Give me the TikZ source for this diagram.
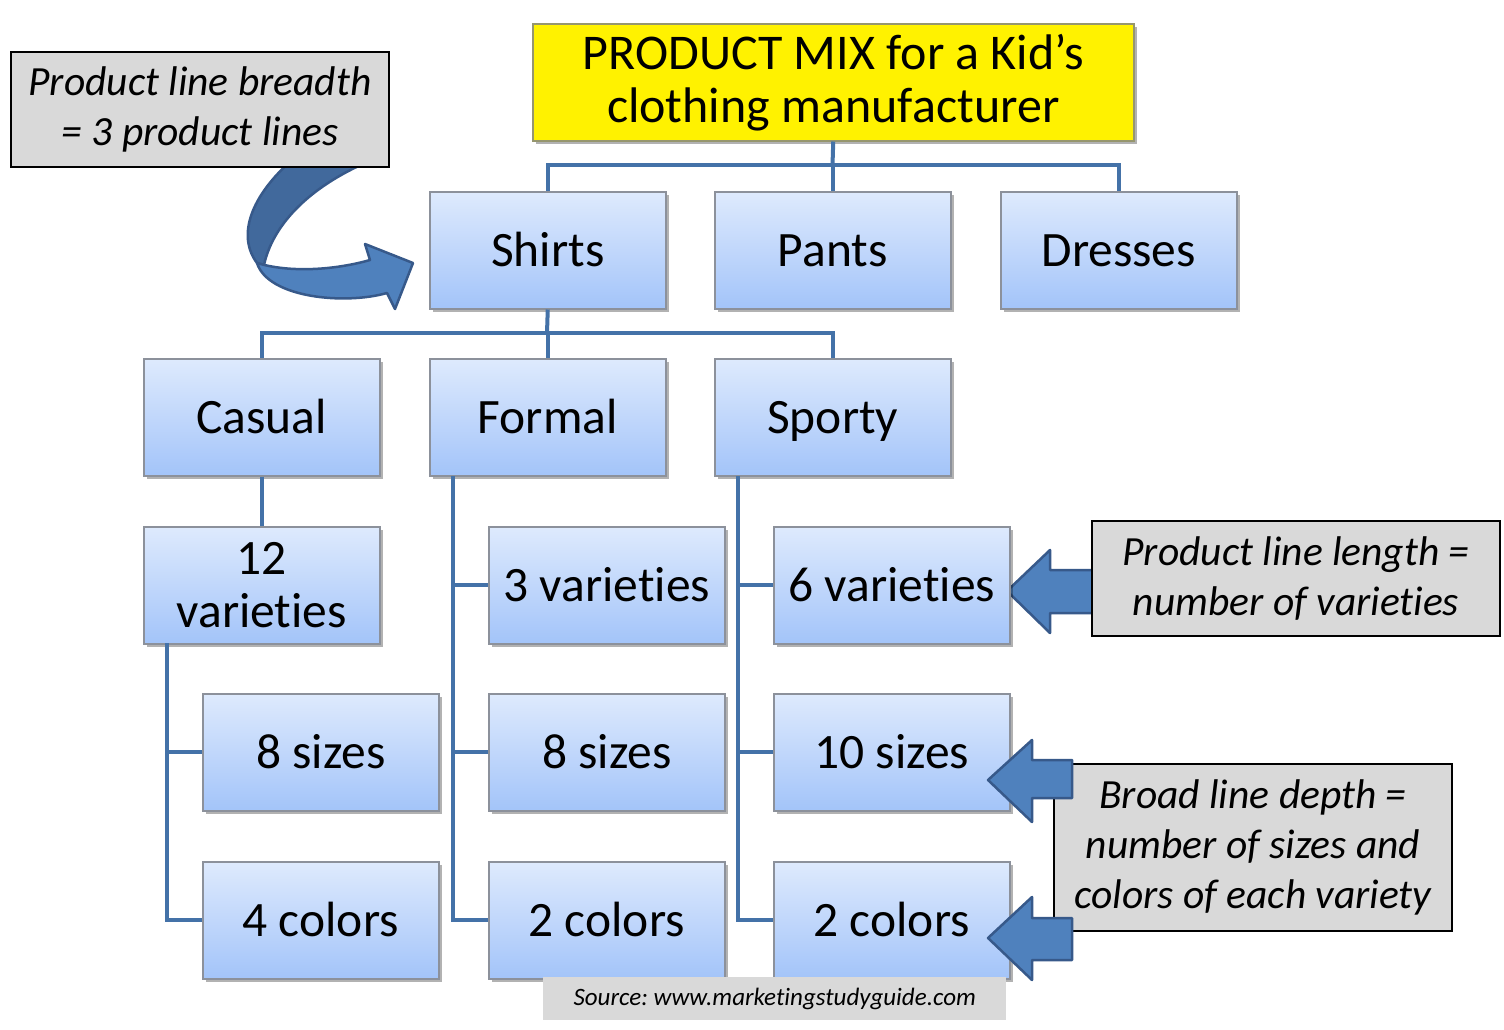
\documentclass[tikz,border=0pt]{standalone}
\usepackage{fontspec}
\setmainfont{Carlito}[Ligatures=NoCommon]
\usetikzlibrary{shadows}
\definecolor{boxtop}{RGB}{222,234,253}
\definecolor{boxbot}{RGB}{163,196,249}
\definecolor{boxborder}{RGB}{140,145,155}
\definecolor{conncol}{RGB}{68,114,168}
\definecolor{calloutgray}{RGB}{217,217,217}
\definecolor{arrowfill}{RGB}{79,129,189}
\definecolor{arrowdark}{RGB}{65,105,156}
\definecolor{arrowedge}{RGB}{55,89,138}
\definecolor{titleborder}{RGB}{150,150,110}
\tikzset{
  blkbase/.style={draw=boxborder, line width=1.5pt, top color=boxtop, bottom color=boxbot,
    minimum width=236pt, minimum height=117pt, anchor=north west, inner sep=0pt,
    font=\fontsize{49.5}{53}\selectfont, align=center,
    drop shadow={shadow xshift=3pt, shadow yshift=-3pt, opacity=0.3, fill=black}},
  blk/.style={blkbase, text height=44pt, text depth=12pt},
  conn/.style={draw=conncol, line width=4pt, line join=miter},
  callout/.style={draw=black, line width=2pt, fill=calloutgray, anchor=north west,
    inner sep=0pt, font=\fontsize{41.5}{50}\selectfont\itshape, align=center},
  blockarrow/.style={fill=arrowfill, draw=arrowedge, line width=2.5pt, line join=round}
}
\begin{document}
\frenchspacing
\begin{tikzpicture}[x=1pt,y=-1pt]
\useasboundingbox (0,0) rectangle (1504,1029);

% curved arrow (under breadth callout)
\filldraw[fill=arrowdark, draw=arrowedge, line width=2.5pt, line join=round]
  (292,160) .. controls (252,195) and (236,235) .. (257,263) -- (264,265)
  .. controls (272,228) and (305,188) .. (372,160) -- cycle;
\filldraw[blockarrow]
  (257,263) .. controls (290,273) and (335,270) .. (370,260) -- (365,244) -- (413,263)
  -- (395,309) -- (387,293) .. controls (345,305) and (268,298) .. (257,263) -- cycle;

% block arrow 1 (under length callout)
\filldraw[blockarrow] (1007,591) -- (1050,550) -- (1050,570) -- (1100,570) -- (1100,613)
  -- (1050,613) -- (1050,633) -- cycle;

% nodes
\node[draw=titleborder, line width=1.5pt, fill=yellow, minimum width=601pt, minimum height=117pt,
  anchor=north west, inner sep=0pt, align=center, font=\fontsize{50}{53}\selectfont,
  drop shadow={shadow xshift=3pt, shadow yshift=-3pt, opacity=0.3, fill=black}]
  (title) at (532,23) {PRODUCT MIX for a Kid’s\\clothing manufacturer};

\node[callout, minimum width=378pt, minimum height=115pt] (breadth) at (10,51)
  {Product line breadth\\= 3 product lines};
\node[callout, minimum width=408pt, minimum height=115pt] (length) at (1091,520)
  {Product line length =\\number of varieties};
\node[callout, minimum width=398pt, minimum height=167pt] (depth) at (1053,763)
  {Broad line depth =\\number of sizes and\\colors of each variety};

% connector junctions
\coordinate (bus1) at (832.5,165);
\draw[conn] (title.south) -- (bus1);
\coordinate (bus2) at (547,333);
\coordinate (t1) at (167,643);
\coordinate (t2) at (453,476);
\coordinate (t3) at (738,476);

\node[blk] (shirts) at (429,191) {Shirts};
\node[blk] (pants) at (714,191) {Pants};
\node[blk] (dresses) at (1000,191) {Dresses};
\node[blk] (casual) at (143,358) {Casual};
\node[blk] (formal) at (429,358) {Formal};
\node[blk] (sporty) at (714,358) {Sporty};
\node[blkbase] (v12) at (143,526) {12\\varieties};
\node[blk] (v3) at (488,526) {3 varieties};
\node[blk] (v6) at (773,526) {6 varieties};
\node[blk] (s8a) at (202,693) {8 sizes};
\node[blk] (s8b) at (488,693) {8 sizes};
\node[blk] (s10) at (773,693) {10 sizes};
\node[blk] (c4a) at (202,861) {4 colors};
\node[blk] (c2b) at (488,861) {2 colors};
\node[blk] (c2c) at (773,861) {2 colors};

% connectors
\draw[conn] (bus1) -| (shirts.north);
\draw[conn] (bus1) -| (pants.north);
\draw[conn] (bus1) -| (dresses.north);
\draw[conn] (shirts.south) -- (bus2);
\draw[conn] (bus2) -| (casual.north);
\draw[conn] (bus2) -| (formal.north);
\draw[conn] (bus2) -| (sporty.north);
\draw[conn] (casual.south) -- (v12.north);
\draw[conn] (t1) |- (s8a.west);
\draw[conn] (t1) |- (c4a.west);
\draw[conn] (t2) |- (v3.west);
\draw[conn] (t2) |- (s8b.west);
\draw[conn] (t2) |- (c2b.west);
\draw[conn] (t3) |- (v6.west);
\draw[conn] (t3) |- (s10.west);
\draw[conn] (t3) |- (c2c.west);

% block arrows 2 and 3 (over depth callout)
\filldraw[blockarrow] (988,780) -- (1032,740) -- (1032,760) -- (1072,760) -- (1072,798)
  -- (1032,798) -- (1032,822) -- cycle;
\filldraw[blockarrow] (988,938) -- (1032,897) -- (1032,918) -- (1072,918) -- (1072,960)
  -- (1032,960) -- (1032,980) -- cycle;

% source
\node[fill=calloutgray, minimum width=463pt, minimum height=43pt, anchor=north west,
  inner sep=0pt, font=\fontsize{25}{28}\selectfont\itshape] (source) at (543,977)
  {Source: www.marketingstudyguide.com};
\end{tikzpicture}
\end{document}
